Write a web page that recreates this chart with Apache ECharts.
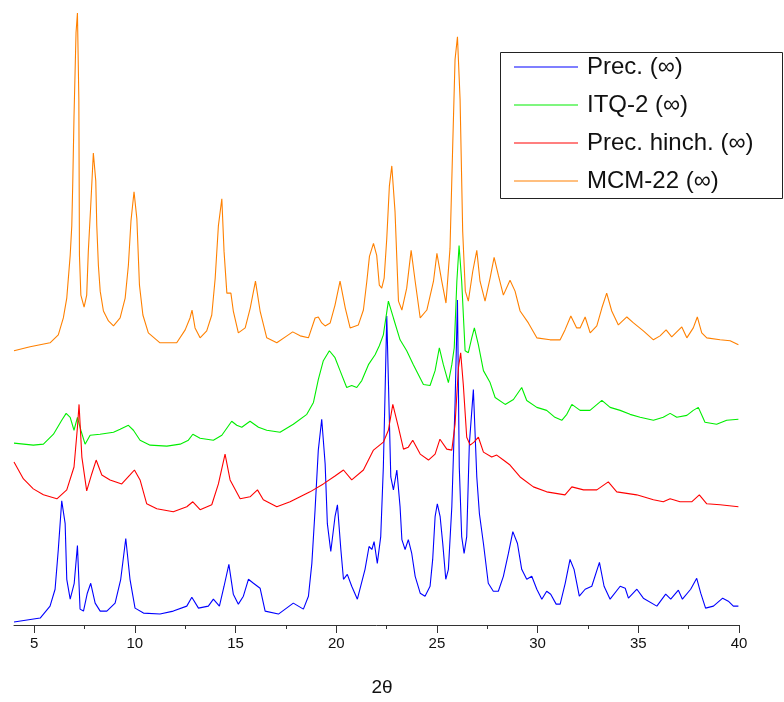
<!DOCTYPE html>
<html>
<head>
<meta charset="utf-8">
<script src="https://cdn.jsdelivr.net/npm/echarts@6/dist/echarts.min.js"></script>
<style>
html,body{margin:0;padding:0;background:#fff;}
#chart{width:784px;height:702px;}
</style>
</head>
<body>
<div id="chart"></div>
<script>
// Series names (legend)
const seriesNames = ['Prec. (\u221E)', 'ITQ-2 (\u221E)', 'Prec. hinch. (\u221E)', 'MCM-22 (\u221E)'];
const seriesColors = ['#0000ff', '#00ee00', '#ff0000', '#ff8000'];

// x-axis ticks (2θ)
const majorTicks = [5, 10, 15, 20, 25, 30, 35, 40];
const minorTicks = [7.5, 12.5, 17.5, 22.5, 27.5, 32.5, 37.5];

// Intensities (a.u., offset-stacked as in the figure) vs 2θ
const precData = [
[4.0,3],[5.30,7],[5.79,19],[6.04,36],[6.20,76],[6.37,125],[6.54,102],[6.62,46],[6.79,26],[6.99,42],
[7.15,80],[7.28,16],[7.45,14],[7.64,32],[7.81,42],[8.03,22],[8.28,14],[8.61,14],[9.02,22],[9.30,46],
[9.55,87],[9.76,46],[10.01,17],[10.43,12],[11.25,11],[11.91,14],[12.58,19],[12.83,28],[13.16,17],[13.65,19],
[13.90,26],[14.20,19],[14.43,39],[14.67,61],[14.89,31],[15.14,21],[15.39,29],[15.64,46],[15.89,42],[16.22,37],
[16.47,14],[17.13,11],[17.87,22],[18.37,16],[18.62,29],[18.79,62],[18.95,116],[19.11,176],[19.28,207],[19.45,162],
[19.56,102],[19.73,74],[19.94,109],[20.06,121],[20.23,76],[20.36,46],[20.55,51],[20.77,39],[21.05,26],[21.43,56],
[21.63,79],[21.77,76],[21.88,84],[22.04,62],[22.21,89],[22.34,159],[22.42,229],[22.51,311],[22.71,149],[22.84,136],
[23.01,156],[23.17,119],[23.26,86],[23.42,76],[23.58,86],[23.75,72],[23.92,49],[24.17,32],[24.41,29],[24.66,39],
[24.79,66],[24.91,109],[25.02,122],[25.16,109],[25.29,82],[25.44,46],[25.57,56],[25.74,119],[25.90,222],[26.02,327],
[26.11,159],[26.23,89],[26.35,72],[26.48,89],[26.61,182],[26.81,237],[26.98,149],[27.11,112],[27.31,82],[27.55,42],
[27.80,34],[28.05,34],[28.30,49],[28.55,72],[28.77,94],[29.00,82],[29.21,56],[29.46,46],[29.71,49],[29.96,36],
[30.21,26],[30.45,34],[30.65,31],[30.92,21],[31.12,21],[31.37,42],[31.61,66],[31.81,56],[32.07,29],[32.36,36],
[32.69,39],[33.07,63],[33.30,39],[33.60,26],[34.10,39],[34.35,37],[34.51,27],[34.93,36],[35.25,27],[35.92,19],
[36.36,31],[36.61,26],[36.99,35],[37.19,26],[37.60,36],[37.90,47],[38.10,32],[38.34,17],[38.73,19],[39.19,27],
[39.47,24],[39.72,19],[39.97,19]
];

const itq2Data = [
[4.0,183],[4.96,181],[5.46,182],[5.96,192],[6.37,206],[6.59,213],[6.79,209],[6.98,196],[7.15,209],[7.32,196],
[7.53,182],[7.78,191],[8.27,192],[8.94,194],[9.27,197],[9.68,201],[9.93,196],[10.26,186],[10.76,181],[11.59,180],
[12.25,182],[12.66,186],[12.88,192],[13.24,188],[13.90,186],[14.32,191],[14.81,205],[15.06,201],[15.31,199],[15.72,205],
[16.14,199],[16.55,196],[17.21,194],[17.87,202],[18.54,212],[18.87,224],[19.11,247],[19.36,266],[19.66,276],[19.94,269],
[20.19,256],[20.52,239],[20.77,241],[21.02,239],[21.27,246],[21.60,262],[21.93,272],[22.14,281],[22.34,292],[22.59,326],
[22.84,309],[23.17,287],[23.50,276],[23.83,262],[24.33,242],[24.66,241],[24.91,256],[25.12,279],[25.32,262],[25.57,244],
[25.74,262],[25.86,279],[25.99,346],[26.10,382],[26.23,346],[26.40,276],[26.56,274],[26.73,289],[26.86,299],[27.06,282],
[27.31,256],[27.64,244],[27.89,229],[28.39,222],[28.80,227],[29.21,239],[29.46,226],[29.96,219],[30.45,216],[30.86,209],
[31.20,206],[31.45,212],[31.70,222],[32.11,216],[32.60,216],[33.19,226],[33.60,219],[34.10,216],[34.59,212],[35.09,209],
[35.75,206],[36.24,209],[36.58,213],[36.91,209],[37.41,211],[37.73,216],[37.98,219],[38.20,209],[38.31,204],[38.89,202],
[39.39,206],[39.97,207]
];

const precHinchData = [
[4.0,164],[4.47,147],[4.96,137],[5.46,131],[6.13,127],[6.62,136],[6.98,159],[7.15,199],[7.23,222],[7.37,169],
[7.61,135],[7.86,152],[8.08,166],[8.36,151],[8.77,146],[9.35,142],[9.76,151],[9.98,156],[10.26,146],[10.59,122],
[11.09,117],[11.91,114],[12.58,119],[12.88,124],[13.24,116],[13.82,121],[14.15,142],[14.48,172],[14.73,146],[15.23,127],
[15.72,129],[16.09,136],[16.38,126],[17.05,119],[17.71,124],[18.70,134],[19.36,142],[19.94,150],[20.36,156],[20.77,146],
[21.35,156],[21.85,176],[22.34,184],[22.59,196],[22.81,222],[23.09,199],[23.34,177],[23.58,179],[23.80,186],[24.17,172],
[24.58,166],[24.91,172],[25.15,187],[25.49,177],[25.74,176],[25.90,202],[26.07,259],[26.18,274],[26.31,242],[26.48,189],
[26.65,181],[26.84,184],[27.06,189],[27.31,174],[27.72,169],[27.97,171],[28.30,166],[28.63,161],[29.13,149],[29.79,139],
[30.45,134],[31.36,131],[31.70,139],[32.28,136],[32.94,136],[33.51,144],[33.93,134],[34.92,131],[35.75,126],[36.24,124],
[36.58,127],[37.07,124],[37.65,124],[38.03,131],[38.40,122],[39.06,121],[39.97,119]
];

const mcm22Data = [
[4.0,276],[4.80,280],[5.79,284],[6.20,292],[6.45,309],[6.62,329],[6.79,372],[6.87,402],[6.92,447],[6.98,512],
[7.08,596],[7.15,616],[7.22,529],[7.25,372],[7.32,332],[7.48,320],[7.61,332],[7.69,376],[7.81,422],[7.94,475],
[8.06,447],[8.11,402],[8.19,362],[8.28,336],[8.44,316],[8.69,306],[8.94,301],[9.27,309],[9.52,329],[9.68,362],
[9.81,407],[9.96,436],[10.10,409],[10.23,342],[10.40,312],[10.67,294],[11.25,284],[12.08,284],[12.50,297],[12.74,309],
[12.84,317],[12.99,299],[13.24,289],[13.57,296],[13.82,312],[13.99,349],[14.15,402],[14.32,429],[14.43,376],[14.57,334],
[14.77,334],[14.89,316],[15.14,294],[15.48,299],[15.73,319],[15.99,346],[16.22,316],[16.55,289],[17.05,284],[17.55,291],
[17.84,295],[18.21,291],[18.62,289],[18.95,309],[19.11,310],[19.28,304],[19.45,301],[19.70,304],[19.94,322],[20.19,346],
[20.45,319],[20.69,299],[21.10,302],[21.35,317],[21.52,346],[21.65,371],[21.85,384],[22.01,372],[22.14,342],[22.26,339],
[22.38,349],[22.51,389],[22.64,442],[22.76,462],[22.92,416],[23.09,326],[23.26,317],[23.50,339],[23.72,377],[23.92,346],
[24.17,309],[24.50,317],[24.83,346],[25.00,374],[25.24,346],[25.45,324],[25.65,379],[25.78,479],[25.90,569],[26.02,592],
[26.15,529],[26.28,396],[26.41,336],[26.56,326],[26.78,356],[26.98,377],[27.14,346],[27.39,326],[27.64,349],[27.84,370],
[28.05,352],[28.30,332],[28.63,347],[28.88,336],[29.13,316],[29.54,304],[29.96,289],[30.62,287],[31.12,287],[31.36,297],
[31.65,311],[31.94,299],[32.11,299],[32.36,310],[32.61,294],[32.94,301],[33.19,319],[33.43,334],[33.68,316],[34.01,302],
[34.43,310],[34.76,304],[35.25,296],[35.75,287],[36.08,291],[36.38,297],[36.66,290],[37.16,300],[37.41,289],[37.73,299],
[37.93,310],[38.15,294],[38.40,289],[39.06,287],[39.56,286],[39.97,282]
];

const allData = [precData, itq2Data, precHinchData, mcm22Data];

const chart = echarts.init(document.getElementById('chart'), null, {renderer: 'canvas'});
const font = 'Liberation Sans, Arial, sans-serif';

chart.setOption({
  animation: false,
  backgroundColor: '#ffffff',
  grid: {left: 14, right: 45, top: 0, bottom: 73, containLabel: false},
  xAxis: [
    {
      type: 'value', min: 4, max: 40, position: 'bottom',
      name: '2\u03B8', nameLocation: 'middle', nameGap: 53,
      nameTextStyle: {fontFamily: font, fontSize: 19, color: '#111', padding: [0, 0, 0, 11]},
      axisLine: {show: true, lineStyle: {color: '#333', width: 1}},
      axisTick: {show: true, length: 8, inside: false, customValues: majorTicks, lineStyle: {color: '#333', width: 1}},
      axisLabel: {show: true, customValues: majorTicks, margin: 11, fontFamily: font, fontSize: 15, color: '#111'},
      splitLine: {show: false}
    },
    {
      type: 'value', min: 4, max: 40, position: 'bottom',
      axisLine: {show: false},
      axisTick: {show: true, length: 4, inside: false, customValues: minorTicks, lineStyle: {color: '#333', width: 1}},
      axisLabel: {show: false},
      splitLine: {show: false}
    }
  ],
  yAxis: {
    type: 'value', min: 0, max: 629, show: false
  },
  legend: {
    orient: 'vertical', left: 514, top: 54, padding: 0,
    icon: 'rect', itemWidth: 64, itemHeight: 1.2, itemGap: 12,
    textStyle: {fontFamily: font, fontSize: 24, lineHeight: 26, color: '#111', padding: [0, 0, 0, 4]},
    data: seriesNames
  },
  graphic: [{
    type: 'rect', shape: {x: 500.5, y: 52.5, width: 282, height: 146},
    style: {fill: 'none', stroke: '#222', lineWidth: 1}, silent: true, z: 100
  }],
  series: seriesNames.map((n, i) => ({
    name: n, type: 'line', data: allData[i], xAxisIndex: 0,
    symbol: 'none', showSymbol: false, smooth: false,
    lineStyle: {color: seriesColors[i], width: 1.1},
    itemStyle: {color: seriesColors[i]}
  }))
});
</script>
</body>
</html>
